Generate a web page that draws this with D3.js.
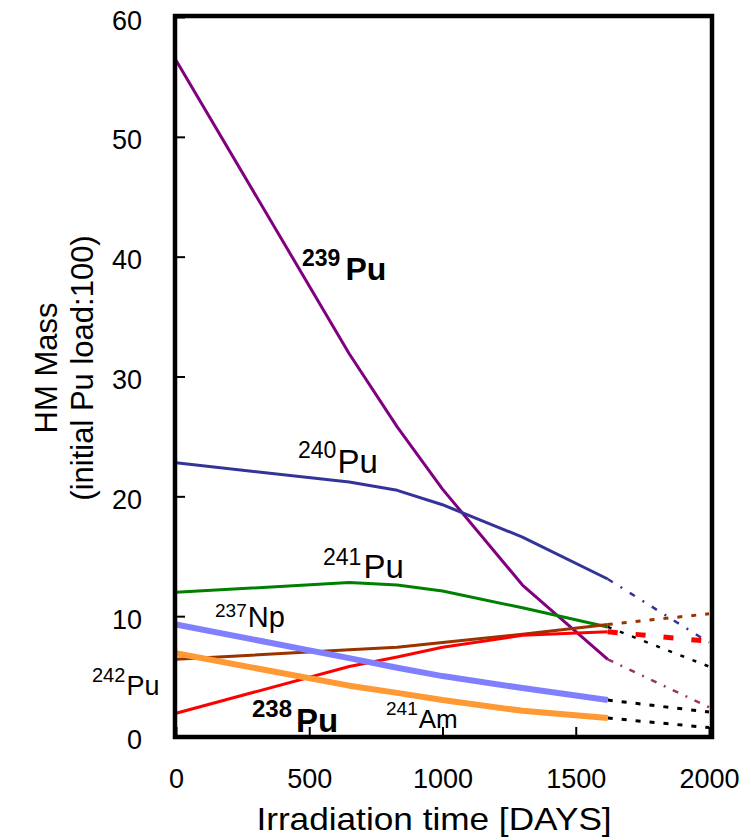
<!DOCTYPE html>
<meta charset="utf-8">
<style>
body { margin: 0; background: white; }
text { font-family: "Liberation Sans", Arial, sans-serif; }
</style>
<script src="https://d3js.org/d3.v7.min.js"></script>
<body>
<script>
// irradiation days at which the solid curves are sampled
const days = [0, 650, 830, 1000, 1300, 1620];

const pu239 = [56.4, 31.9, 25.8, 20.6, 12.6, 6.4];
const pu240 = [22.8, 21.2, 20.5, 19.3, 16.6, 13.1];
const pu241 = [12.0, 12.8, 12.6, 12.1, 10.7, 9.1];
const np237 = [9.3, 6.5, 5.7, 5.0, 4.0, 3.0];
const am241 = [6.9, 4.2, 3.6, 3.0, 2.1, 1.5];
const pu242 = [6.4, 7.2, 7.4, 7.8, 8.5, 9.3];
const pu238 = [1.9, 5.8, 6.6, 7.4, 8.4, 8.7];

// extrapolated values from the last point out to 2000 days
const extDays = [1620, 2000];
const ext = {
  pu239: [6.4, 2.4],
  pu240: [13.1, 7.8],
  pu241: [9.1, 5.8],
  np237: [3.0, 2.0],
  am241: [1.5, 0.7],
  pu242: [9.3, 10.2],
  pu238: [8.7, 7.9]
};

const xTicks = [0, 500, 1000, 1500, 2000];
const yTicks = [0, 10, 20, 30, 40, 50, 60];

const W = 751, H = 840;
const svg = d3.select('body').append('svg').attr('width', W).attr('height', H);

const x = d3.scaleLinear().domain([0, 2000]).range([176, 709]);
const y = d3.scaleLinear().domain([0, 60]).range([736, 17]);

const line = d3.line().x(d => x(d[0])).y(d => y(d[1]));

const series = [
  { key: 'pu239', vals: pu239, color: '#800080', w: 3, extColor: '#993366', extW: 2.5, dash: '6,8,2,8' },
  { key: 'pu240', vals: pu240, color: '#333399', w: 3, extColor: '#333399', extW: 2.5, dash: '6,9,2,9' },
  { key: 'pu241', vals: pu241, color: '#008000', w: 3, extColor: '#000000', extW: 2.5, dash: '4,9' },
  { key: 'pu242', vals: pu242, color: '#993300', w: 3, extColor: '#993300', extW: 3, dash: '5,9' },
  { key: 'pu238', vals: pu238, color: '#ff0000', w: 3, extColor: '#ff0000', extW: 5, dash: '10,18' },
  { key: 'np237', vals: np237, color: '#8080ff', w: 6, extColor: '#000000', extW: 3, dash: '5,9' },
  { key: 'am241', vals: am241, color: '#ff9933', w: 6, extColor: '#000000', extW: 3, dash: '5,9' }
];

// extrapolation lines
series.forEach(s => {
  svg.append('path')
    .attr('d', line(extDays.map((d, i) => [d, ext[s.key][i]])))
    .attr('fill', 'none')
    .attr('stroke', s.extColor)
    .attr('stroke-width', s.extW)
    .attr('stroke-dasharray', s.dash);
});

// solid curves
series.forEach(s => {
  svg.append('path')
    .attr('d', line(days.map((d, i) => [d, s.vals[i]])))
    .attr('fill', 'none')
    .attr('stroke', s.color)
    .attr('stroke-width', s.w)
    .attr('stroke-linejoin', 'round');
});

// frame
svg.append('rect')
  .attr('x', 175).attr('y', 16)
  .attr('width', 537).attr('height', 721)
  .attr('fill', 'none')
  .attr('stroke', 'black')
  .attr('stroke-width', 4.5);

// axes with inward ticks
const xAxis = svg.append('g')
  .attr('transform', `translate(0,736)`)
  .call(d3.axisBottom(x).tickValues(xTicks).tickFormat(d3.format('d')).tickSizeInner(-9).tickSizeOuter(0));
const yAxis = svg.append('g')
  .attr('transform', `translate(175,0)`)
  .call(d3.axisLeft(y).tickValues(yTicks).tickFormat(d3.format('d')).tickSizeInner(-10).tickSizeOuter(0));

[xAxis, yAxis].forEach(a => {
  a.select('.domain').remove();
  a.selectAll('line').attr('stroke', 'black').attr('stroke-width', 2);
  a.selectAll('text')
    .attr('font-family', '"Liberation Sans", Arial, sans-serif')
    .attr('font-size', 27)
    .attr('fill', 'black');
});
xAxis.selectAll('text').attr('y', 52).attr('dy', 0);
yAxis.selectAll('text').attr('x', -33).attr('dy', '0.45em');

// axis titles
svg.append('text')
  .attr('transform', 'translate(434,830) scale(1.1,1)')
  .attr('text-anchor', 'middle')
  .attr('font-size', 32)
  .text('Irradiation time [DAYS]');

const yt = svg.append('text')
  .attr('transform', 'translate(0,368) rotate(-90)')
  .attr('text-anchor', 'middle')
  .attr('font-size', 31);
yt.append('tspan').attr('x', 0).attr('y', 57).text('HM Mass');
yt.append('tspan').attr('x', 0).attr('y', 93).text('(initial Pu load:100)');

// isotope labels: superscript mass number + element symbol
const labels = [
  { mass: '239', el: 'Pu', x: 302, supY: 266, mainY: 280, sup: 23, size: 32, bold: true, gap: 5 },
  { mass: '240', el: 'Pu', x: 298, supY: 458, mainY: 473, sup: 23, size: 33, bold: false, gap: 1 },
  { mass: '241', el: 'Pu', x: 323, supY: 565, mainY: 578, sup: 23, size: 33, bold: false, gap: 2 },
  { mass: '237', el: 'Np', x: 215, supY: 617, mainY: 627, sup: 19, size: 29, bold: false, gap: 1 },
  { mass: '242', el: 'Pu', x: 92, supY: 682, mainY: 695, sup: 20, size: 27, bold: false, gap: 1 },
  { mass: '238', el: 'Pu', x: 252, supY: 717, mainY: 732, sup: 24, size: 33, bold: true, gap: 4 },
  { mass: '241', el: 'Am', x: 386, supY: 715, mainY: 728, sup: 19, size: 26, bold: false, gap: 1 }
];

labels.forEach(l => {
  const t = svg.append('text')
    .attr('x', l.x)
    .attr('font-weight', l.bold ? 'bold' : 'normal')
    .attr('fill', 'black');
  t.append('tspan').attr('x', l.x).attr('y', l.supY).attr('font-size', l.sup).text(l.mass);
  t.append('tspan').attr('dx', l.gap).attr('y', l.mainY).attr('font-size', l.size).text(l.el);
});
</script>
</body>
</html>
